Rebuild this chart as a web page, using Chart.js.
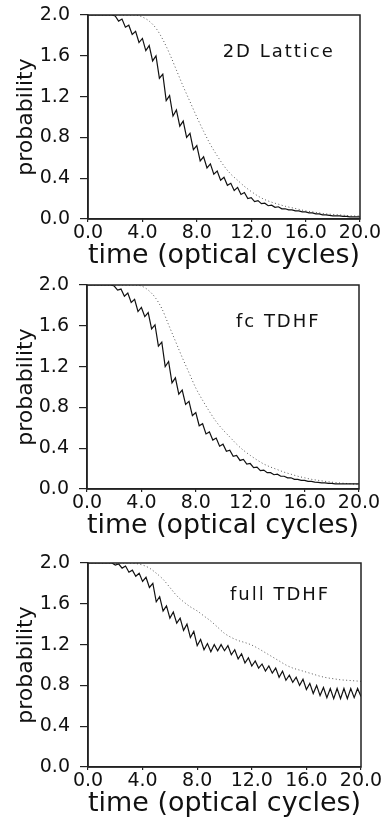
<!DOCTYPE html>
<html>
<head>
  <meta charset="UTF-8">
  <title>Ionization probability</title>
  <style>
    html, body { margin: 0; padding: 0; background: #fff; }
    .panel { position: absolute; left: 0; width: 391px; }
  </style>
</head>
<body>
  <!-- three stacked panels, one chart each -->
  <div class="panel" style="top:0;height:270px"><canvas id="lattice"></canvas></div>
  <div class="panel" style="top:270px;height:270px"><canvas id="fc"></canvas></div>
  <div class="panel" style="top:548px;height:278px"><canvas id="full"></canvas></div>

  <script src="https://cdn.jsdelivr.net/npm/chart.js@4.4.1/dist/chart.umd.min.js"></script>
  <script>
    // time grids (optical cycles)
    const timeFine = [
      0, 0.25, 0.5, 0.75, 1, 1.25, 1.5, 1.75,
      2, 2.25, 2.5, 2.75, 3, 3.25, 3.5, 3.75,
      4, 4.25, 4.5, 4.75, 5, 5.25, 5.5, 5.75,
      6, 6.25, 6.5, 6.75, 7, 7.25, 7.5, 7.75,
      8, 8.25, 8.5, 8.75, 9, 9.25, 9.5, 9.75,
      10, 10.25, 10.5, 10.75, 11, 11.25, 11.5, 11.75,
      12, 12.25, 12.5, 12.75, 13, 13.25, 13.5, 13.75,
      14, 14.25, 14.5, 14.75, 15, 15.25, 15.5, 15.75,
      16, 16.25, 16.5, 16.75, 17, 17.25, 17.5, 17.75,
      18, 18.25, 18.5, 18.75, 19, 19.25, 19.5, 19.75,
      20
    ];
    const timeCoarse = [
      0, 0.5, 1, 1.5, 2, 2.5, 3, 3.5,
      4, 4.5, 5, 5.5, 6, 6.5, 7, 7.5,
      8, 8.5, 9, 9.5, 10, 10.5, 11, 11.5,
      12, 12.5, 13, 13.5, 14, 14.5, 15, 15.5,
      16, 16.5, 17, 17.5, 18, 18.5, 19, 19.5,
      20
    ];

    // 2D lattice panel
    const latticeSolid = [
      2.00, 2.00, 2.00, 2.00, 2.00, 2.00, 2.00, 2.00,
      1.99, 1.94, 1.96, 1.88, 1.90, 1.81, 1.84, 1.73,
      1.77, 1.65, 1.70, 1.55, 1.60, 1.38, 1.42, 1.16,
      1.21, 1.01, 1.07, 0.91, 0.96, 0.80, 0.84, 0.68,
      0.72, 0.57, 0.61, 0.50, 0.54, 0.44, 0.47, 0.38,
      0.41, 0.33, 0.35, 0.28, 0.31, 0.24, 0.26, 0.20,
      0.21, 0.17, 0.18, 0.15, 0.155, 0.13, 0.135, 0.115,
      0.12, 0.10, 0.10, 0.09, 0.09, 0.08, 0.08, 0.07,
      0.07, 0.06, 0.06, 0.05, 0.05, 0.04, 0.04, 0.035,
      0.03, 0.03, 0.03, 0.025, 0.025, 0.02, 0.02, 0.02,
      0.02
    ];
    const latticeDotted = [
      2.00, 2.00, 2.00, 2.00, 2.00, 2.00, 2.00, 2.00,
      1.98, 1.94, 1.87, 1.76, 1.62, 1.46, 1.30, 1.15,
      1.00, 0.86, 0.73, 0.62, 0.52, 0.44, 0.38, 0.32,
      0.27, 0.225, 0.19, 0.165, 0.145, 0.125, 0.11, 0.095,
      0.08, 0.07, 0.06, 0.05, 0.045, 0.04, 0.035, 0.03,
      0.03
    ];

    // fc TDHF panel
    const fcSolid = [
      2.00, 2.00, 2.00, 2.00, 2.00, 2.00, 2.00, 2.00,
      1.99, 1.95, 1.96, 1.89, 1.92, 1.83, 1.86, 1.74,
      1.78, 1.69, 1.73, 1.57, 1.61, 1.40, 1.44, 1.20,
      1.25, 1.04, 1.09, 0.93, 0.97, 0.83, 0.86, 0.72,
      0.75, 0.62, 0.64, 0.54, 0.56, 0.48, 0.50, 0.42,
      0.44, 0.37, 0.38, 0.32, 0.33, 0.28, 0.29, 0.245,
      0.25, 0.21, 0.215, 0.18, 0.185, 0.16, 0.16, 0.14,
      0.145, 0.125, 0.125, 0.11, 0.11, 0.095, 0.095, 0.085,
      0.085, 0.075, 0.075, 0.068, 0.065, 0.06, 0.06, 0.055,
      0.055, 0.05, 0.05, 0.05, 0.05, 0.05, 0.05, 0.05,
      0.05
    ];
    const fcDotted = [
      2.00, 2.00, 2.00, 2.00, 2.00, 2.00, 2.00, 2.00,
      1.99, 1.95, 1.88, 1.77, 1.61, 1.45, 1.29, 1.14,
      0.99, 0.87, 0.76, 0.66, 0.58, 0.51, 0.44, 0.38,
      0.33, 0.285, 0.245, 0.215, 0.19, 0.165, 0.145, 0.125,
      0.11, 0.095, 0.085, 0.075, 0.067, 0.06, 0.055, 0.05,
      0.045
    ];

    // full TDHF panel
    const fullSolid = [
      2.00, 2.00, 2.00, 2.00, 2.00, 2.00, 2.00, 2.00,
      1.98, 1.99, 1.95, 1.97, 1.91, 1.93, 1.87, 1.90,
      1.82, 1.86, 1.76, 1.80, 1.62, 1.67, 1.53, 1.58,
      1.46, 1.52, 1.41, 1.46, 1.34, 1.40, 1.27, 1.33,
      1.19, 1.25, 1.15, 1.21, 1.13, 1.20, 1.14, 1.20,
      1.14, 1.19, 1.10, 1.15, 1.06, 1.11, 1.02, 1.07,
      0.99, 1.04, 0.97, 1.01, 0.94, 0.99, 0.92, 0.97,
      0.88, 0.94, 0.85, 0.90, 0.83, 0.88, 0.80, 0.86,
      0.76, 0.82, 0.72, 0.80, 0.70, 0.78, 0.68, 0.77,
      0.67, 0.77, 0.67, 0.77, 0.67, 0.77, 0.68, 0.77,
      0.69
    ];
    const fullDotted = [
      2.00, 2.00, 2.00, 2.00, 2.00, 2.00, 2.00, 1.995,
      1.98, 1.95, 1.90, 1.84, 1.76, 1.68, 1.62, 1.57,
      1.53, 1.48, 1.43, 1.37, 1.31, 1.27, 1.24, 1.22,
      1.195, 1.16, 1.12, 1.08, 1.04, 1.00, 0.97, 0.95,
      0.93, 0.91, 0.89, 0.875, 0.865, 0.855, 0.85, 0.845,
      0.84
    ];

    const xTickValues = [0, 4, 8, 12, 16, 20];
    const xTickLabels = ['0.0', '4.0', '8.0', '12.0', '16.0', '20.0'];
    const yTickValues = [0, 0.4, 0.8, 1.2, 1.6, 2.0];
    const yTickLabels = ['0.0', '0.4', '0.8', '1.2', '1.6', '2.0'];
    const panelNames = ['2D Lattice', 'fc TDHF', 'full TDHF'];

    const FONT = 'DejaVu Sans';
    const INK = '#111';

    function toPoints(xs, ys) {
      return xs.map((x, i) => ({ x: x, y: ys[i] }));
    }

    // box around the plot + the panel name
    const framePlugin = {
      id: 'frame',
      afterDraw(chart, args, opts) {
        const { ctx, chartArea: a, scales } = chart;
        ctx.save();
        ctx.strokeStyle = '#222';
        ctx.lineWidth = 1.5;
        ctx.strokeRect(a.left, a.top, a.right - a.left, a.bottom - a.top);
        ctx.font = '18px "' + FONT + '"';
        ctx.letterSpacing = '2px';
        ctx.fillStyle = INK;
        ctx.textBaseline = 'middle';
        ctx.textAlign = 'left';
        ctx.fillText(opts.text, scales.x.getPixelForValue(opts.x), scales.y.getPixelForValue(opts.y));
        ctx.restore();
      }
    };

    function makeChart(id, solid, dotted, name, pos, pad, axisW) {
      new Chart(document.getElementById(id), {
        type: 'line',
        data: {
          datasets: [
            {
              data: toPoints(timeFine, solid),
              borderColor: INK,
              borderWidth: 1.2,
              pointRadius: 0
            },
            {
              data: toPoints(timeCoarse, dotted),
              borderColor: '#555',
              borderWidth: 1,
              borderDash: [1, 2.5],
              pointRadius: 0,
              cubicInterpolationMode: 'monotone'
            }
          ]
        },
        options: {
          responsive: true,
          maintainAspectRatio: false,
          animation: false,
          devicePixelRatio: 1,
          layout: { padding: pad },
          plugins: {
            legend: { display: false },
            tooltip: { enabled: false },
            frame: { text: name, x: pos[0], y: pos[1] }
          },
          scales: {
            x: {
              type: 'linear',
              min: 0,
              max: 20,
              afterFit: (s) => { s.height = 51; s.paddingLeft = 0; s.paddingRight = 0; },
              afterBuildTicks: (s) => { s.ticks = xTickValues.map(v => ({ value: v })); },
              ticks: {
                autoSkip: false,
                maxRotation: 0,
                padding: 0,
                color: INK,
                font: { family: FONT, size: 19 },
                callback: (v) => xTickLabels[xTickValues.indexOf(v)]
              },
              grid: { drawOnChartArea: false, tickLength: 3, color: '#222', lineWidth: 1.2 },
              border: { color: '#222', width: 1.5 },
              title: {
                display: true,
                text: 'time (optical cycles)',
                color: INK,
                font: { family: FONT, size: 27 },
                padding: { top: 0, bottom: -2 }
              }
            },
            y: {
              min: 0,
              max: 2,
              afterFit: (s) => { s.width = axisW; s.paddingTop = 0; s.paddingBottom = 0; },
              afterBuildTicks: (s) => { s.ticks = yTickValues.map(v => ({ value: v })); },
              ticks: {
                padding: 10,
                color: INK,
                font: { family: FONT, size: 19 },
                callback: (v) => yTickLabels[yTickValues.indexOf(v)]
              },
              grid: { drawOnChartArea: false, tickLength: 8, color: '#222', lineWidth: 1.2 },
              border: { color: '#222', width: 1.5 },
              title: {
                display: true,
                text: 'probability',
                color: INK,
                font: { family: FONT, size: 22 },
                padding: { top: 13, bottom: 0 }
              }
            }
          }
        },
        plugins: [framePlugin]
      });
    }

    makeChart('lattice', latticeSolid, latticeDotted, panelNames[0], [9.9, 1.63],
      { top: 15, right: 31, bottom: 0, left: 0 }, 88);
    makeChart('fc', fcSolid, fcDotted, panelNames[1], [10.95, 1.63],
      { top: 15, right: 32, bottom: 0, left: 0 }, 87);
    makeChart('full', fullSolid, fullDotted, panelNames[2], [10.4, 1.68],
      { top: 15, right: 30, bottom: 8, left: 0 }, 88);
  </script>
</body>
</html>
